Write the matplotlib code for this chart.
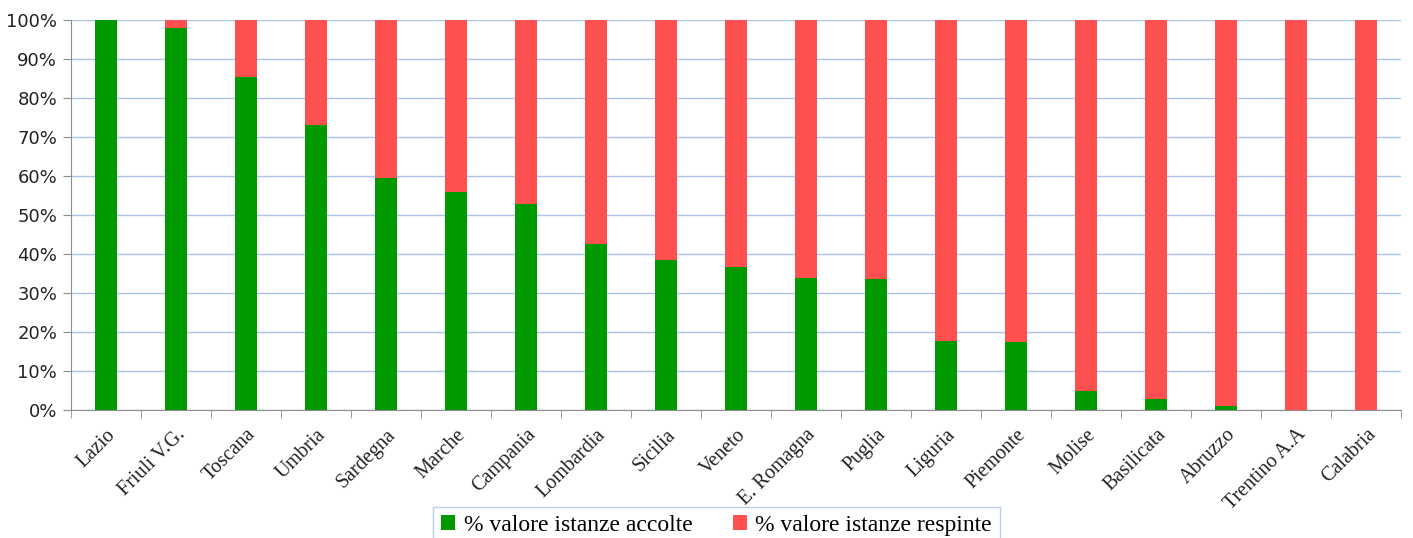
import numpy as np
import matplotlib.pyplot as plt
from matplotlib.ticker import FixedLocator, PercentFormatter

# Regioni e percentuali (valore istanze)
regioni = ['Lazio', 'Friuli V.G.', 'Toscana', 'Umbria', 'Sardegna', 'Marche',
           'Campania', 'Lombardia', 'Sicilia', 'Veneto', 'E. Romagna', 'Puglia',
           'Liguria', 'Piemonte', 'Molise', 'Basilicata', 'Abruzzo',
           'Trentino A.A', 'Calabria']
accolte = np.array([100, 98, 85.4, 73, 59.4, 56, 52.9, 42.5, 38.4, 36.7, 33.8,
                    33.5, 17.7, 17.4, 4.9, 2.8, 1.0, 0, 0])
respinte = 100 - accolte

verde = '#009900'
rosso = '#FF5050'
grigio = '#8C8C8C'

fig = plt.figure(figsize=(14.13, 5.38), dpi=100)
ax = fig.add_axes([71/1413, 128/538, 1330/1413, 390/538])

x = np.arange(len(regioni))
w = 0.31
ax.bar(x, accolte, w, color=verde, label='% valore istanze accolte', zorder=3)
ax.bar(x, respinte, w, bottom=accolte, color=rosso,
       label='% valore istanze respinte', zorder=3)

ax.set_xlim(-0.5, len(regioni) - 0.5)
ax.set_ylim(0, 100)
ax.set_yticks(np.arange(0, 101, 10))
ax.yaxis.set_major_formatter(PercentFormatter(decimals=0))
ax.grid(axis='y', color='#A9C4E6', linewidth=1, zorder=0)

ax.set_xticks(x)
ax.set_xticklabels(regioni, rotation=45, ha='right', rotation_mode='anchor',
                   fontsize=14.5, family='Liberation Serif', color='#222222')
ax.tick_params(axis='x', which='major', length=0, pad=11)
ax.xaxis.set_minor_locator(FixedLocator(np.arange(-0.5, len(regioni), 1)))
ax.tick_params(axis='x', which='minor', length=6, color=grigio)
ax.tick_params(axis='y', length=6, color=grigio, labelsize=13,
               labelcolor='#222222', pad=4)

for s in ['top', 'right']:
    ax.spines[s].set_visible(False)
for s in ['left', 'bottom']:
    ax.spines[s].set_color(grigio)
ax.spines['bottom'].set_zorder(4)

leg = fig.legend(loc='lower center', bbox_to_anchor=(0.507, -0.012), ncol=2,
                 frameon=True, fancybox=False, handlelength=0.6,
                 handleheight=0.6, handletextpad=0.35, columnspacing=1.7,
                 borderpad=0.35, borderaxespad=0,
                 prop={'family': 'Liberation Serif', 'size': 17})
leg.get_frame().set_edgecolor('#A9C4E6')
leg.get_frame().set_linewidth(1)

plt.savefig('out.png', dpi=100)
